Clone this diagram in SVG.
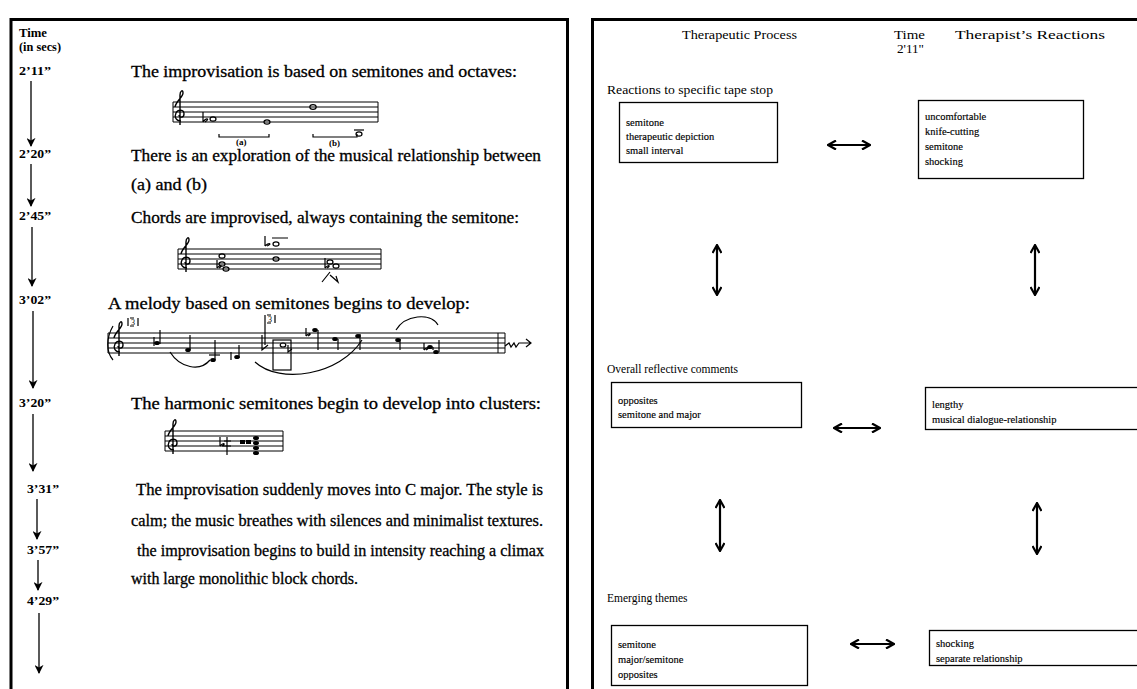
<svg xmlns="http://www.w3.org/2000/svg" width="1137" height="689" viewBox="0 0 1137 689">
<defs>
<marker id="ah" viewBox="0 0 10 10" refX="9" refY="5" markerWidth="9" markerHeight="9" markerUnits="userSpaceOnUse" orient="auto">
<path d="M0,0 L10,5 L0,10 L3,5 Z" fill="#000"/>
</marker>
<marker id="dh" viewBox="0 0 10 10" refX="8" refY="5" markerWidth="10" markerHeight="10" markerUnits="userSpaceOnUse" orient="auto-start-reverse">
<path d="M1,0.5 L9,5 L1,9.5" fill="none" stroke="#000" stroke-width="2.2" stroke-linejoin="miter"/>
</marker>
<g id="clef">
<path d="M7,24 C2,24 0,20 2,16 C4,12 10,12 10,17 C10,21 5,21 5,18 M6,28 L6,-2 C6,-6 9,-8 9,-4 C9,0 2,4 1,10" fill="none" stroke="#000" stroke-width="1.4"/>
</g>
</defs>
<style>
.frame{fill:none;stroke:#000;stroke-width:3}
.tl{font-family:"Liberation Serif",serif;font-weight:bold;font-size:13px;fill:#000}
.lt{font-family:"Liberation Serif",serif;font-size:16px;fill:#000;stroke:#000;stroke-width:0.3}
.hd{font-family:"Liberation Serif",serif;font-size:13px;fill:#000}
.sec{font-family:"Liberation Serif",serif;font-size:11.5px;fill:#000}
.bx{font-family:"Liberation Serif",serif;font-size:10.5px;fill:#000;stroke:#000;stroke-width:0.15}
.box{fill:#fff;stroke:#000;stroke-width:1.3}
.vline{stroke:#000;stroke-width:1.3;fill:none}
.staff{stroke:#000;stroke-width:1;fill:none}
.mus{stroke:#000;stroke-width:1.2;fill:none}
.dbl{stroke:#000;stroke-width:2.2;fill:none}
.lbl{font-family:"Liberation Serif",serif;font-size:9px;font-weight:bold;fill:#000}
</style>
<rect width="1137" height="689" fill="#fff"/>

<!-- panels -->
<path class="frame" d="M11,700 V19.5 H567.5 V700"/>
<path class="frame" d="M592.5,700 V19.5 H1140"/>

<!-- left panel: time column -->
<g id="time-header">
<text class="tl" x="19" y="37" font-size="11" textLength="28" lengthAdjust="spacingAndGlyphs">Time</text>
<text class="tl" x="19" y="51" font-size="10" textLength="42" lengthAdjust="spacingAndGlyphs">(in secs)</text>
</g>
<g id="t1"><text class="tl" x="19" y="75" textLength="32" lengthAdjust="spacingAndGlyphs">2’11”</text></g>
<g id="t2"><text class="tl" x="19" y="158" textLength="32" lengthAdjust="spacingAndGlyphs">2’20”</text></g>
<g id="t3"><text class="tl" x="19" y="220" textLength="32" lengthAdjust="spacingAndGlyphs">2’45”</text></g>
<g id="t4"><text class="tl" x="19" y="304" textLength="32" lengthAdjust="spacingAndGlyphs">3’02”</text></g>
<g id="t5"><text class="tl" x="19" y="407" textLength="32" lengthAdjust="spacingAndGlyphs">3’20”</text></g>
<g id="t6"><text class="tl" x="27" y="493" textLength="32" lengthAdjust="spacingAndGlyphs">3’31”</text></g>
<g id="t7"><text class="tl" x="27" y="554" textLength="32" lengthAdjust="spacingAndGlyphs">3’57”</text></g>
<g id="t8"><text class="tl" x="27" y="605" textLength="32" lengthAdjust="spacingAndGlyphs">4’29”</text></g>

<g id="time-connectors">
<line class="vline" x1="31" y1="81" x2="31" y2="146" marker-end="url(#ah)"/>
<line class="vline" x1="31" y1="164" x2="31" y2="206" marker-end="url(#ah)"/>
<line class="vline" x1="32" y1="227" x2="32" y2="286" marker-end="url(#ah)"/>
<line class="vline" x1="33" y1="311" x2="33" y2="388" marker-end="url(#ah)"/>
<line class="vline" x1="33" y1="414" x2="33" y2="471" marker-end="url(#ah)"/>
<line class="vline" x1="37" y1="499" x2="37" y2="539" marker-end="url(#ah)"/>
<line class="vline" x1="38" y1="560" x2="38" y2="590" marker-end="url(#ah)"/>
<line class="vline" x1="39" y1="613" x2="39" y2="673" marker-end="url(#ah)"/>
</g>

<!-- left panel: descriptions -->
<g id="d1"><text class="lt" x="131" y="77" textLength="386" lengthAdjust="spacingAndGlyphs">The improvisation is based on semitones and octaves:</text></g>
<g id="d2">
<text class="lt" x="131" y="161" textLength="410" lengthAdjust="spacingAndGlyphs">There is an exploration of the musical relationship between</text>
<text class="lt" x="131" y="190" textLength="76" lengthAdjust="spacingAndGlyphs">(a) and (b)</text>
</g>
<g id="d3"><text class="lt" x="131" y="223" textLength="388" lengthAdjust="spacingAndGlyphs">Chords are improvised, always containing the semitone:</text></g>
<g id="d4"><text class="lt" x="108" y="309" textLength="362" lengthAdjust="spacingAndGlyphs">A melody based on semitones begins to develop:</text></g>
<g id="d5"><text class="lt" x="131" y="409" textLength="410" lengthAdjust="spacingAndGlyphs">The harmonic semitones begin to develop into clusters:</text></g>
<g id="d6">
<text class="lt" x="136" y="495" textLength="407" lengthAdjust="spacingAndGlyphs">The improvisation suddenly moves into C major. The style is</text>
<text class="lt" x="131" y="526" textLength="412" lengthAdjust="spacingAndGlyphs">calm; the music breathes with silences and minimalist textures.</text>
</g>
<g id="d7">
<text class="lt" x="137" y="556" textLength="407" lengthAdjust="spacingAndGlyphs">the improvisation begins to build in intensity reaching a climax</text>
<text class="lt" x="131" y="584" textLength="227" lengthAdjust="spacingAndGlyphs">with large monolithic block chords.</text>
</g>

<!-- staff 1 -->
<g id="staff1">
<path class="staff" d="M173,102 H378 M173,107 H378 M173,112 H378 M173,117 H378 M173,122 H378 M173,102 V122 M378,102 V122"/>
<use href="#clef" x="174" y="97"/>
<path class="mus" d="M203,112 V122 M203,122 C207,117 210,119 205,122"/>
<ellipse cx="213" cy="119" rx="3" ry="2.2" class="mus"/>
<ellipse cx="267" cy="122" rx="3" ry="2.2" class="mus"/>
<ellipse cx="313" cy="107" rx="3.2" ry="2.4" class="mus"/>
<ellipse cx="359" cy="134" rx="3" ry="2.2" class="mus"/>
<path class="mus" d="M354,130 H364"/>
<path class="mus" d="M219,134 V137 H269 V134 M313,134 V137 H357 V134"/>
<text class="lbl" x="236" y="145">(a)</text>
<text class="lbl" x="329" y="146">(b)</text>
</g>

<!-- staff 2 -->
<g id="staff2">
<path class="staff" d="M178,249 H381 M178,254 H381 M178,259 H381 M178,264 H381 M178,269 H381 M178,249 V269 M381,249 V269"/>
<use href="#clef" x="180" y="244"/>
<ellipse cx="222" cy="256" rx="3" ry="2.2" class="mus"/>
<ellipse cx="222" cy="264" rx="3" ry="2.2" class="mus"/>
<ellipse cx="226" cy="269" rx="3" ry="2.2" class="mus"/>
<path class="mus" d="M217,260 V268 M217,268 C221,264 223,266 219,268"/>
<path class="mus" d="M265,236 V246 M265,246 C270,242 272,244 267,246 M272,238 H288"/>
<ellipse cx="276" cy="244" rx="3" ry="2.2" class="mus"/>
<ellipse cx="276" cy="259" rx="3" ry="2.2" class="mus"/>
<ellipse cx="330" cy="262" rx="3" ry="2.2" class="mus"/>
<ellipse cx="336" cy="266" rx="3" ry="2.2" class="mus"/>
<path class="mus" d="M325,258 V268 M325,268 C329,264 331,266 327,268 M322,282 L330,272 M330,275 L338,282 L336,276"/>
</g>

<!-- staff 3 -->
<g id="staff3">
<path class="staff" d="M108,333 H505 M108,338 H505 M108,343 H505 M108,348 H505 M108,353 H505 M108,333 V353 M505,333 V353 M498,333 V353"/>
<path class="mus" d="M113,326 C106,338 106,352 113,360"/>
<use href="#clef" x="113" y="328"/>
<path class="mus" d="M128,318 V326 M130,318 H134 M130,326 H134 M138,318 V326"/>
<text x="131" y="325" font-family="Liberation Serif,serif" font-size="8">3</text>
<path class="mus" d="M160,330 V344"/>
<ellipse cx="157" cy="343" rx="2.8" ry="2" fill="#000"/>
<path class="mus" d="M154,337 V346"/>
<path class="mus" d="M190,335 V350"/>
<ellipse cx="188" cy="350" rx="2.8" ry="2" fill="#000"/>
<path class="mus" d="M215,340 V360"/>
<ellipse cx="213" cy="360" rx="2.8" ry="2" fill="#000"/>
<path class="mus" d="M209,355 H220"/>
<path class="mus" d="M239,345 V358"/>
<ellipse cx="237" cy="357" rx="2.8" ry="2" fill="#000"/>
<path class="mus" d="M231,352 V360"/>
<path class="mus" d="M262,335 V350 L268,345"/>
<path class="mus" d="M265,315 V323 M267,315 H271 M267,323 H271 M275,315 V323 M265,323 V345"/>
<text x="268" y="322" font-family="Liberation Serif,serif" font-size="8">3</text>
<rect class="mus" x="273" y="340" width="18" height="30"/>
<ellipse cx="283" cy="345" rx="2.8" ry="2" class="mus"/>
<path class="mus" d="M288,345 V352 L292,349"/>
<path class="mus" d="M306,328 V336 M306,336 C310,332 312,334 308,336"/>
<ellipse cx="315" cy="330" rx="2.8" ry="2" fill="#000"/>
<path class="mus" d="M318,330 V350"/>
<ellipse cx="335" cy="339" rx="2.8" ry="2" fill="#000"/>
<path class="mus" d="M338,339 V350"/>
<path class="mus" d="M360,334 V350"/>
<ellipse cx="358" cy="336" rx="2.8" ry="2" fill="#000"/>
<path class="mus" d="M400,339 V350"/>
<ellipse cx="398" cy="340" rx="2.8" ry="2" fill="#000"/>
<path class="mus" d="M424,343 V350 M424,350 C428,346 430,348 426,350"/>
<ellipse cx="430" cy="347" rx="2.8" ry="2" fill="#000"/>
<path class="mus" d="M433,347 V350"/>
<ellipse cx="436" cy="352" rx="2.8" ry="2" fill="#000"/>
<path class="mus" d="M439,340 V352"/>
<path class="mus" d="M170,352 C180,368 200,372 210,360 M255,362 C280,385 340,375 362,340 M396,330 C405,315 430,312 438,325"/>
<path class="mus" d="M505,346 L509,343 L511,347 L514,343 L516,347 L519,343 H530 M526,339 L531,343 L526,347"/>
</g>

<!-- staff 4 -->
<g id="staff4">
<path class="staff" d="M165,431 H283 M165,436 H283 M165,441 H283 M165,446 H283 M165,451 H283 M165,431 V451 M283,431 V451"/>
<use href="#clef" x="167" y="426"/>
<path class="mus" d="M220,437 V446 M220,446 C224,442 226,444 222,446 M227,437 V455 M224,441 H231 M223,446 H231"/>
<rect x="240" y="440" width="5" height="4" fill="#000"/>
<rect x="246" y="440" width="5" height="4" fill="#000"/>
<ellipse cx="256" cy="438" rx="3" ry="2" fill="#000"/>
<ellipse cx="256" cy="443" rx="3" ry="2" fill="#000"/>
<ellipse cx="256" cy="448" rx="3" ry="2" fill="#000"/>
<ellipse cx="256" cy="453" rx="3" ry="2" fill="#000"/>
</g>

<!-- right panel -->
<g id="header">
<text class="hd" x="682" y="39" textLength="115" lengthAdjust="spacingAndGlyphs">Therapeutic Process</text>
<text class="hd" x="894" y="39" textLength="31" lengthAdjust="spacingAndGlyphs">Time</text>
<text class="hd" x="897" y="53" textLength="27" lengthAdjust="spacingAndGlyphs">2'11"</text>
<text class="hd" x="955" y="39" textLength="150" lengthAdjust="spacingAndGlyphs">Therapist’s Reactions</text>
</g>

<g id="sec1"><text class="sec" x="607" y="94" font-size="13" textLength="166" lengthAdjust="spacingAndGlyphs">Reactions to specific tape stop</text></g>
<g id="box1">
<rect class="box" x="619.5" y="102.5" width="158" height="60"/>
<text class="bx" x="626" y="126">semitone</text>
<text class="bx" x="626" y="140">therapeutic depiction</text>
<text class="bx" x="626" y="154">small interval</text>
</g>
<g id="box2">
<rect class="box" x="918.5" y="100.5" width="165" height="78"/>
<text class="bx" x="925" y="120">uncomfortable</text>
<text class="bx" x="925" y="135">knife-cutting</text>
<text class="bx" x="925" y="150">semitone</text>
<text class="bx" x="925" y="165">shocking</text>
</g>

<g id="sec2"><text class="sec" x="607" y="373">Overall reflective comments</text></g>
<g id="box3">
<rect class="box" x="611.5" y="382.5" width="190" height="45"/>
<text class="bx" x="618" y="404">opposites</text>
<text class="bx" x="618" y="418">semitone and major</text>
</g>
<g id="box4">
<rect class="box" x="925.5" y="387.5" width="230" height="42"/>
<text class="bx" x="932" y="408">lengthy</text>
<text class="bx" x="932" y="423">musical dialogue-relationship</text>
</g>

<g id="sec3"><text class="sec" x="607" y="602">Emerging themes</text></g>
<g id="box5">
<rect class="box" x="611.5" y="625.5" width="196" height="60"/>
<text class="bx" x="618" y="648">semitone</text>
<text class="bx" x="618" y="663">major/semitone</text>
<text class="bx" x="618" y="678">opposites</text>
</g>
<g id="box6">
<rect class="box" x="929.5" y="630.5" width="230" height="35"/>
<text class="bx" x="936" y="647">shocking</text>
<text class="bx" x="936" y="662">separate relationship</text>
</g>

<g id="connectors">
<line class="dbl" x1="829" y1="145" x2="869" y2="145" marker-start="url(#dh)" marker-end="url(#dh)"/>
<line class="dbl" x1="717" y1="246" x2="717" y2="294" marker-start="url(#dh)" marker-end="url(#dh)"/>
<line class="dbl" x1="1035" y1="246" x2="1035" y2="294" marker-start="url(#dh)" marker-end="url(#dh)"/>
<line class="dbl" x1="835" y1="428" x2="879" y2="428" marker-start="url(#dh)" marker-end="url(#dh)"/>
<line class="dbl" x1="720" y1="501" x2="720" y2="550" marker-start="url(#dh)" marker-end="url(#dh)"/>
<line class="dbl" x1="1037" y1="504" x2="1037" y2="553" marker-start="url(#dh)" marker-end="url(#dh)"/>
<line class="dbl" x1="852" y1="644" x2="893" y2="644" marker-start="url(#dh)" marker-end="url(#dh)"/>
</g>
</svg>
